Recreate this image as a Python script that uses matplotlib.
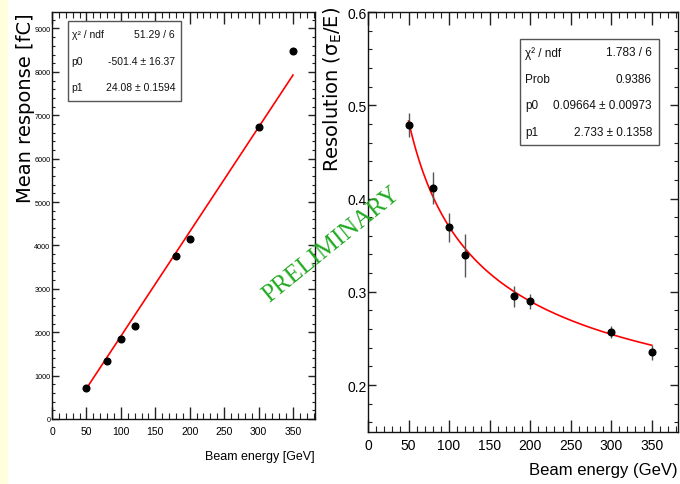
import numpy as np
import matplotlib
matplotlib.use("Agg")
import matplotlib.pyplot as plt
from matplotlib.patches import Rectangle
from matplotlib.ticker import MultipleLocator

# Beam test results: calorimeter response and energy resolution
energy = [50, 80, 100, 120, 180, 200, 300, 350]
response = [714, 1336, 1843, 2150, 3756, 4150, 6735, 8472]
response_err = [40, 40, 45, 45, 50, 50, 60, 70]
resolution = [0.479, 0.411, 0.369, 0.339, 0.295, 0.290, 0.257, 0.235]
resolution_err = [0.013, 0.017, 0.016, 0.023, 0.011, 0.008, 0.006, 0.008]

# Fit results
lin_p0, lin_p1 = -501.4, 24.08
res_p0, res_p1 = 0.09664, 2.733
lin_stats = [("\u03c7\u00b2 / ndf", "51.29 / 6"),
             ("p0", "-501.4 \u00b1 16.37"),
             ("p1", "24.08 \u00b1 0.1594")]
res_stats = [("\u03c7\u00b2 / ndf", "1.783 / 6"),
             ("Prob", "0.9386"),
             ("p0", "0.09664 \u00b1 0.00973"),
             ("p1", "2.733 \u00b1 0.1358")]

SANS = ["Liberation Sans", "DejaVu Sans"]
W, H = 680, 485

fig = plt.figure(figsize=(W / 100, H / 100), dpi=100)
fig.patch.set_facecolor("white")
fig.patches.append(Rectangle((0, 0), 8 / W, 1, transform=fig.transFigure,
                             facecolor="#ffffdc", edgecolor="none", zorder=0))


def px_axes(x0, x1, y0, y1):
    return fig.add_axes([x0 / W, 1 - y1 / H, (x1 - x0) / W, (y1 - y0) / H])


def style_axes(ax, xmaj, ymaj, ymin_loc, xpad, ypad, ylen):
    ax.xaxis.set_major_locator(MultipleLocator(50))
    ax.xaxis.set_minor_locator(MultipleLocator(10))
    ax.yaxis.set_major_locator(MultipleLocator(ymaj))
    ax.yaxis.set_minor_locator(MultipleLocator(ymin_loc))
    ax.tick_params(which="both", direction="in", top=True, right=True,
                   color="#222222")
    ax.tick_params(axis="x", which="major", length=xmaj, width=1, pad=xpad)
    ax.tick_params(axis="x", which="minor", length=xmaj / 2, width=0.8)
    ax.tick_params(axis="y", which="major", length=ylen, width=1, pad=ypad)
    ax.tick_params(axis="y", which="minor", length=ylen / 2, width=0.8)
    for sp in ax.spines.values():
        sp.set_linewidth(1.0)
        sp.set_color("#111111")


def stats_box(ax, x0, x1, ytop, ybot, rows, xl, xr, fs):
    ax.add_patch(Rectangle((x0, ybot), x1 - x0, ytop - ybot,
                           transform=ax.transAxes, facecolor="white",
                           edgecolor="#555555", linewidth=1.0, zorder=5))
    n = len(rows)
    step = (ytop - ybot) / n
    for i, (k, v) in enumerate(rows):
        yc = ytop - step * (i + 0.5)
        ax.text(xl, yc, k, transform=ax.transAxes, ha="left", va="center",
                fontsize=fs, family=SANS, color="#111111", zorder=6)
        ax.text(xr, yc, v, transform=ax.transAxes, ha="right", va="center",
                fontsize=fs, family=SANS, color="#111111", zorder=6)


# Left panel: mean response vs beam energy
ax1 = px_axes(52, 315, 13, 420)
ax1.errorbar(energy, response, yerr=response_err, fmt="o", color="black",
             ecolor="#555555", elinewidth=1, markersize=4.8, zorder=4)
e_fit = np.linspace(min(energy), max(energy), 200)
ax1.plot(e_fit, lin_p0 + lin_p1 * e_fit, color="red", lw=1.2, zorder=3)
ax1.set_xlim(0, 382)
ax1.set_ylim(0, 9380)
style_axes(ax1, 8.6, 1000, 200, 5.0, 1.2, 5.0)
for lab in ax1.get_xticklabels():
    lab.set_fontsize(7.5)
    lab.set_family(SANS)
for lab in ax1.get_yticklabels():
    lab.set_fontsize(5.2)
    lab.set_family(SANS)
ax1.set_xlabel("Beam energy [GeV]", fontsize=9, family=SANS, loc="right")
ax1.xaxis.set_label_coords(1.0, -0.091)
ax1.xaxis.label.set_va("center")
ax1.set_ylabel("Mean response [fC]", fontsize=14, family="DejaVu Sans",
               loc="top")
ax1.yaxis.set_label_coords(-0.10, 1.0)
ax1.yaxis.label.set_va("center")
stats_box(ax1, 0.061, 0.490, 0.979, 0.782, lin_stats, 0.075, 0.468, 7.5)

# Right panel: energy resolution vs beam energy
ax2 = px_axes(368, 678, 13, 432.7)
ax2.errorbar(energy, resolution, yerr=resolution_err, fmt="o", color="black",
             ecolor="#555555", elinewidth=1, markersize=4.8, zorder=4)
ax2.plot(e_fit, res_p0 + res_p1 / np.sqrt(e_fit), color="red", lw=1.2,
         zorder=3)
ax2.set_xlim(0, 382.5)
ax2.set_ylim(0.15, 0.6)
style_axes(ax2, 9.0, 0.1, 0.02, 4.5, 1.0, 6.0)
for lab in ax2.get_xticklabels() + ax2.get_yticklabels():
    lab.set_fontsize(10)
    lab.set_family(SANS)
ax2.set_xlabel("Beam energy (GeV)", fontsize=12, family=SANS, loc="right")
ax2.xaxis.set_label_coords(1.0, -0.089)
ax2.xaxis.label.set_va("center")
ax2.set_ylabel("Resolution (\u03c3$_\\mathregular{E}$/E)", fontsize=14,
               family="DejaVu Sans", loc="top")
ax2.yaxis.set_label_coords(-0.112, 1.014)
ax2.yaxis.label.set_va("center")
stats_box(ax2, 0.490, 0.939, 0.936, 0.683, res_stats, 0.506, 0.916, 8.5)

# Watermark
fig.text(331 / W, 1 - 245 / H, "PRELIMINARY", rotation=39,
         ha="center", va="center", fontsize=18, family="Liberation Serif",
         color="#22aa22", rotation_mode="anchor", zorder=10)

fig.savefig("out.png", dpi=100)
